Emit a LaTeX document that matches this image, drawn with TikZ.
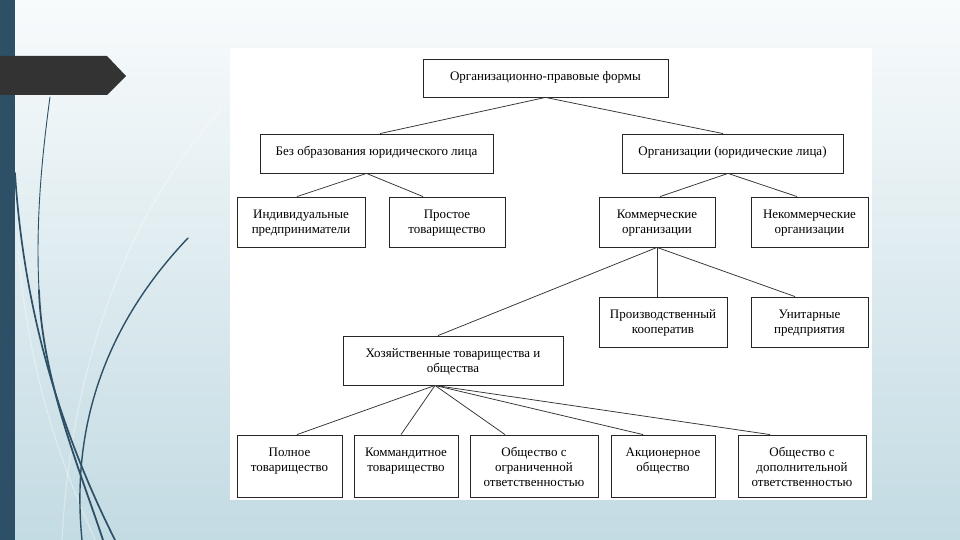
\documentclass[tikz,border=0pt]{standalone}
\usepackage{fontspec}
\setmainfont{Liberation Serif}
\usetikzlibrary{calc}
\definecolor{barc}{HTML}{2D5066}
\definecolor{bgtop}{HTML}{F8FBFC}
\definecolor{bgbot}{HTML}{C3DBE3}
\definecolor{arrc}{HTML}{333333}
\newcommand{\obox}[6]{%
  \node[box, minimum width=#4pt, minimum height=#5pt] (#1) at (#2,#3) {};
  \node[lbl] (#1t) at ([yshift=-11.5pt]#1.north) {\rule{0pt}{10.5pt}#6};
}
\begin{document}
\begin{tikzpicture}[x=1pt,y=-1pt,
  box/.style={draw=black!85, line width=0.85pt, inner sep=0pt, fill=white},
  lbl/.style={anchor=north, align=center, inner sep=0pt, font=\fontsize{13}{15}\selectfont, text=black},
  con/.style={draw=black!80, line width=0.75pt},
  curve/.style={draw=barc, line cap=round},
  faint/.style={draw=white, line width=1.2pt, opacity=0.35}]
\useasboundingbox (0,0) rectangle (960,540);
% background
\shade[top color=bgtop, bottom color=bgbot] (0,0) rectangle (960,540);
% faint curves
\draw[faint] (223,107) .. controls (120,220) and (70,380) .. (62,540);
\draw[faint] (18,250) .. controls (30,380) and (60,460) .. (95,540);
% decorative curves
\draw[curve, line width=0.9pt] (50,97) .. controls (40,170) and (36,230) .. (39,290);
\draw[curve, line width=1.8pt] (39,290) .. controls (42,380) and (80,470) .. (103,540);
\draw[curve, line width=1.7pt] (15,173) .. controls (25,330) and (70,450) .. (115,540);
\draw[curve, line width=1.4pt] (188,238) .. controls (110,320) and (70,420) .. (82,540);
% left bar
\fill[barc] (0,0) rectangle (15,540);
% arrow
\fill[arrc] (0,56) -- (107,56) -- (126,76) -- (107,95) -- (0,95) -- cycle;
% picture area
\fill[white] (230,48) rectangle (872,500);
% boxes
\obox{top}{545.5}{78}{245}{38}{Организационно-правовые формы}
\obox{bez}{376.5}{153.5}{233}{39}{Без образования юридического лица}
\obox{org}{732.5}{153.5}{221}{39}{Организации (юридические лица)}
\obox{ind}{301}{222}{128}{50}{Индивидуальные\\предприниматели}
\obox{prost}{447}{222}{116}{50}{Простое\\товарищество}
\obox{kom}{657}{222}{116}{50}{Коммерческие\\организации}
\obox{nekom}{809.5}{222}{117}{50}{Некоммерческие\\организации}
\obox{proizv}{663}{322}{128}{50}{Производственный\\кооператив}
\obox{unit}{809.5}{322}{117}{50}{Унитарные\\предприятия}
\obox{hoz}{453}{360.5}{220}{49}{Хозяйственные товарищества и\\общества}
\obox{polnoe}{289.5}{466}{105}{62}{Полное\\товарищество}
\obox{kommand}{406}{466}{104}{62}{Коммандитное\\товарищество}
\obox{ooo}{534}{466}{128}{62}{Общество с\\ограниченной\\ответственностью}
\obox{ao}{663}{466}{104}{62}{Акционерное\\общество}
\obox{odo}{802}{466}{128}{62}{Общество с\\дополнительной\\ответственностью}
% connectors
\draw[con] (top.south) -- ([xshift=3.5pt]bez.north);
\draw[con] (top.south) -- ([xshift=-9.5pt]org.north);
\draw[con] ([xshift=-10pt]bez.south) -- ([xshift=-4pt]ind.north);
\draw[con] ([xshift=-10pt]bez.south) -- ([xshift=-24pt]prost.north);
\draw[con] ([xshift=-4.5pt]org.south) -- ([xshift=3pt]kom.north);
\draw[con] ([xshift=-4.5pt]org.south) -- ([xshift=-12.5pt]nekom.north);
\draw[con] (kom.south) -- ([xshift=-6pt]proizv.north);
\draw[con] (kom.south) -- ([xshift=-14.5pt]unit.north);
\draw[con] (kom.south) -- ([xshift=-15pt]hoz.north);
\draw[con] ([xshift=-18pt]hoz.south) -- ([xshift=7.5pt]polnoe.north);
\draw[con] ([xshift=-18pt]hoz.south) -- ([xshift=-5pt]kommand.north);
\draw[con] ([xshift=-18pt]hoz.south) -- ([xshift=-29pt]ooo.north);
\draw[con] ([xshift=-18pt]hoz.south) -- ([xshift=-20pt]ao.north);
\draw[con] ([xshift=-18pt]hoz.south) -- ([xshift=-32pt]odo.north);
\end{tikzpicture}
\end{document}
